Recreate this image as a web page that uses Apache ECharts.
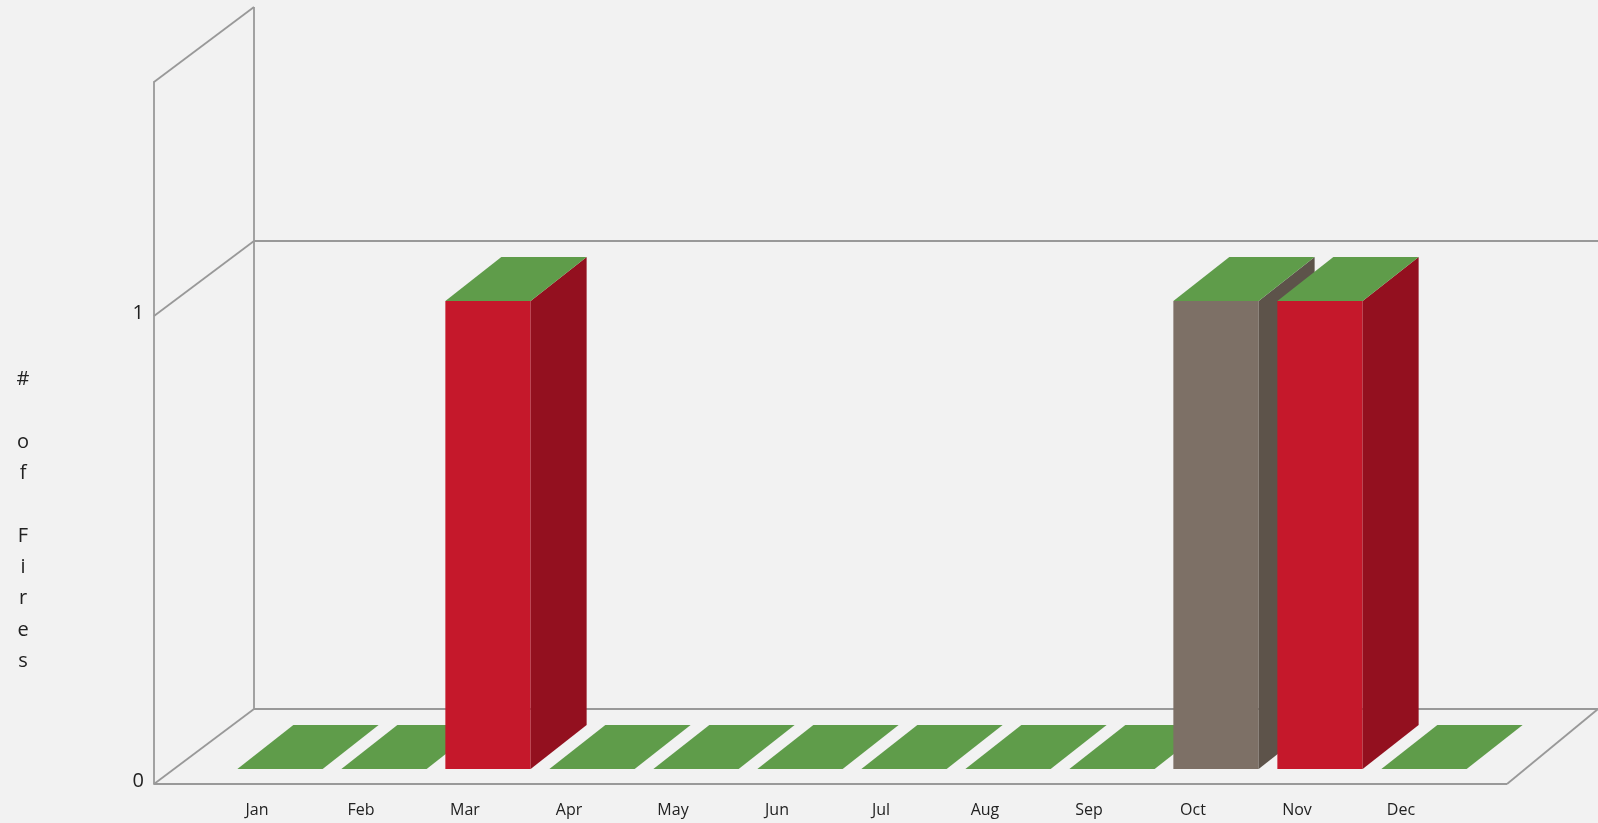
<!DOCTYPE html>
<html>
<head>
<meta charset="utf-8">
<style>html,body{margin:0;padding:0;background:#f2f2f2}#c{width:1598px;height:823px}canvas{filter:blur(0.5px)}</style>
<script src="https://cdn.jsdelivr.net/npm/echarts@6/dist/echarts.min.js"></script>
</head>
<body>
<div id="c"></div>
<script>
const months = ['Jan','Feb','Mar','Apr','May','Jun','Jul','Aug','Sep','Oct','Nov','Dec'];
const fires = [0,0,1,0,0,0,0,0,0,1,1,0];
const frontColors = ['#c5182b','#c5182b','#c5182b','#c5182b','#c5182b','#c5182b','#c5182b','#c5182b','#c5182b','#7d7066','#c5182b','#c5182b'];
const sideColors = ['#93101f','#93101f','#93101f','#93101f','#93101f','#93101f','#93101f','#93101f','#93101f','#5d534a','#93101f','#93101f'];
const topColor = '#5f9c4a';
const yTicks = [0,1];
const yTitle = '#\n \no\nf\n \nF\ni\nr\ne\ns';

const lineColor = '#999999';
const chart = echarts.init(document.getElementById('c'), null, {renderer:'canvas'});

function line(x1,y1,x2,y2){
  return {type:'line',shape:{x1,y1,x2,y2},style:{stroke:lineColor,lineWidth:1.8,fill:null}};
}
function frame(params, api){
  const y0 = api.coord([0,0])[1], y1 = api.coord([0,1])[1], yTop = api.coord([0,1.5])[1];
  const L = 154, R = 1507, dx = 100, dy = -75;
  return {type:'group',children:[
    line(L+dx,yTop+dy,L+dx,y0+dy),
    line(L,yTop,L+dx,yTop+dy),
    line(L,y1,L+dx,y1+dy),
    line(L,y0,L+dx,y0+dy),
    line(L,y0,R,y0),
    line(R,y0,1598,y0+dy),
    line(L+dx,y0+dy,1598,y0+dy),
    line(L+dx,y1+dy,1598,y1+dy)
  ]};
}
function bar(params, api){
  const i = api.value(0), v = api.value(1);
  const band = api.size([1,0])[0];
  const w = band*0.82, shift = 23, lift = 15, dx = 56, dy = -44;
  const p = api.coord([i,v]), b = api.coord([i,0]);
  const x0 = p[0]+shift-w/2, x1 = x0+w, yb = b[1]-lift, yt = p[1]-lift;
  const kids = [];
  if(v>0){
    kids.push({type:'rect',shape:{x:x0,y:yt,width:w,height:yb-yt},style:{fill:frontColors[i]}});
    kids.push({type:'polygon',shape:{points:[[x1,yb],[x1+dx,yb+dy],[x1+dx,yt+dy],[x1,yt]]},style:{fill:sideColors[i]}});
  }
  kids.push({type:'polygon',shape:{points:[[x0,yt],[x1,yt],[x1+dx,yt+dy],[x0+dx,yt+dy]]},style:{fill:topColor}});
  return {type:'group',children:kids};
}

chart.setOption({
  animation:false,
  backgroundColor:'#f2f2f2',
  title:{text:yTitle,left:18,top:359,textAlign:'center',
    textStyle:{fontFamily:'Open Sans',fontSize:20,fontWeight:'normal',color:'#222',lineHeight:31.3}},
  grid:{left:205,width:1248,top:82,height:702,containLabel:false},
  xAxis:{type:'category',data:months,axisLine:{show:false},axisTick:{show:false},splitLine:{show:false},
    axisLabel:{margin:18,fontFamily:'Open Sans',fontSize:16,color:'#222',interval:0}},
  yAxis:{type:'value',min:0,max:1.5,offset:51,
    axisLine:{show:true,lineStyle:{color:lineColor,width:1.8}},axisTick:{show:false},splitLine:{show:false},
    axisLabel:{customValues:yTicks,margin:10,fontFamily:'Open Sans',fontSize:20,color:'#222',verticalAlign:'bottom',lineHeight:6}},
  series:[
    {type:'custom',clip:false,silent:true,z:1,renderItem:frame,data:[[0,0]],encode:{x:0,y:1}},
    {type:'custom',clip:false,silent:true,z:2,renderItem:bar,data:months.map((m,i)=>[i,fires[i]]),encode:{x:0,y:1}}
  ]
});
</script>
</body>
</html>
